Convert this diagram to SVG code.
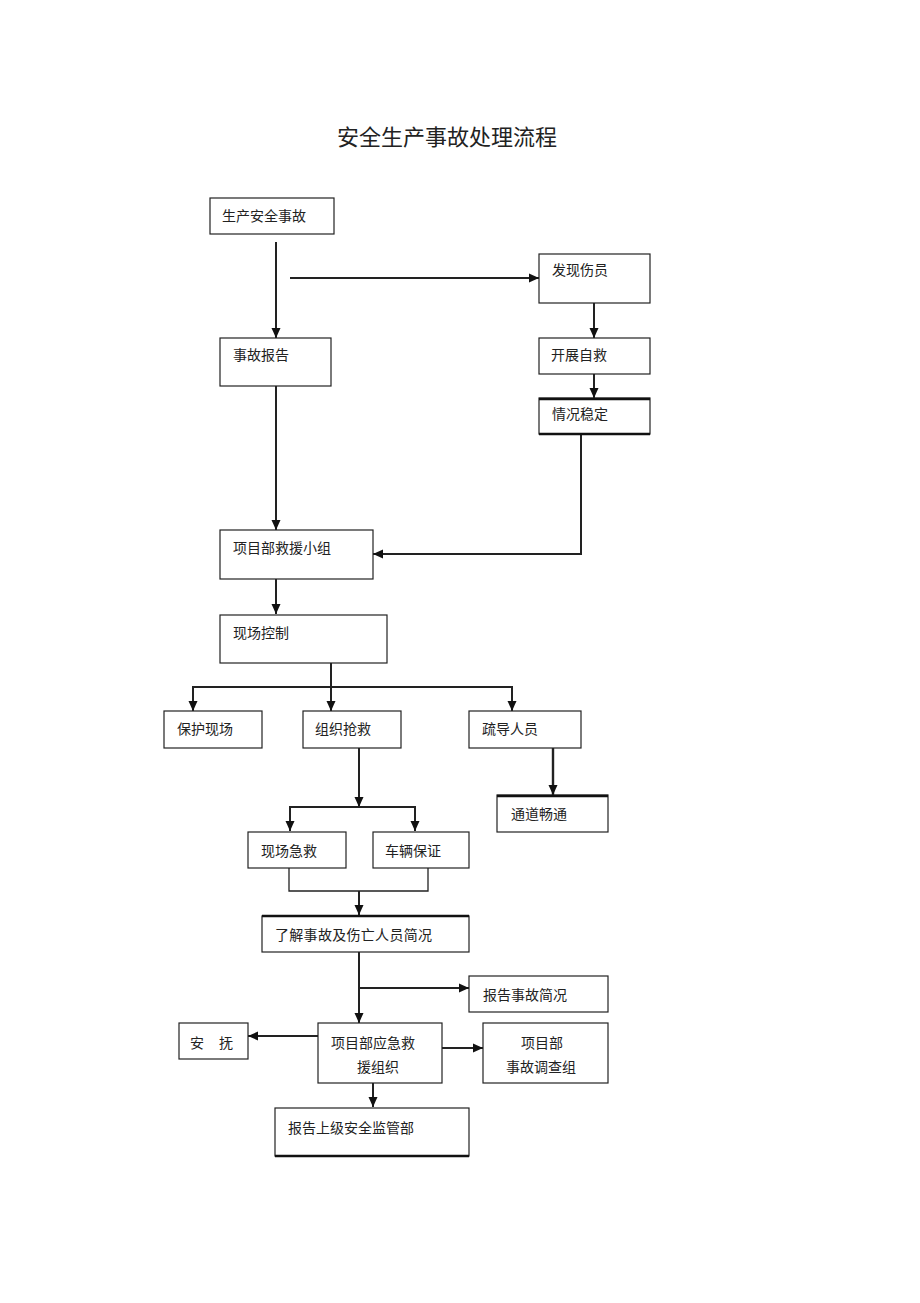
<svg xmlns="http://www.w3.org/2000/svg" width="920" height="1303" viewBox="0 0 920 1303">
<style>
.box{fill:#fff;stroke:#222;stroke-width:1.2}
.thick{stroke:#111;stroke-width:2.4;fill:none}
.t{font-family:"Liberation Serif","Noto Sans CJK SC",serif;font-size:14px;fill:#222}
.title{font-family:"Liberation Serif","Noto Sans CJK SC",serif;font-size:22px;fill:#222}
.c{stroke:#222;stroke-width:2;fill:none}
</style>
<defs>
<marker id="ah" markerUnits="userSpaceOnUse" markerWidth="10" markerHeight="10" viewBox="0 0 10 10" refX="10" refY="5" orient="auto">
<path d="M0,0.5 L10,5 L0,9.5 Z" fill="#111"/>
</marker>
</defs>
<rect width="920" height="1303" fill="#fff"/>
<text class="title" x="447" y="145" text-anchor="middle">安全生产事故处理流程</text>

<g id="connectors">
<line class="c" x1="276" y1="242" x2="276" y2="338" marker-end="url(#ah)"/>
<line class="c" x1="290" y1="278" x2="539" y2="278" marker-end="url(#ah)"/>
<line class="c" x1="594" y1="303" x2="594" y2="338" marker-end="url(#ah)"/>
<line class="c" x1="594" y1="374" x2="594" y2="398" marker-end="url(#ah)"/>
<line class="c" x1="276" y1="386" x2="276" y2="530" marker-end="url(#ah)"/>
<polyline class="c" points="581,434 581,554 373,554" marker-end="url(#ah)"/>
<line class="c" x1="276" y1="579" x2="276" y2="614" marker-end="url(#ah)"/>
<line class="c" x1="331" y1="663" x2="331" y2="711" marker-end="url(#ah)"/>
<polyline class="c" points="193,711 193,687 512,687 512,711"/>
<line class="c" x1="193" y1="700" x2="193" y2="711" marker-end="url(#ah)"/>
<line class="c" x1="512" y1="700" x2="512" y2="711" marker-end="url(#ah)"/>
<line class="c" x1="553" y1="748" x2="553" y2="795" marker-end="url(#ah)" style="stroke-width:2.4"/>
<line class="c" x1="359" y1="748" x2="359" y2="807" marker-end="url(#ah)"/>
<polyline class="c" points="290,830 290,807 415,807 415,830"/>
<line class="c" x1="290" y1="820" x2="290" y2="831" marker-end="url(#ah)"/>
<line class="c" x1="415" y1="820" x2="415" y2="831" marker-end="url(#ah)"/>
<polyline class="c" points="289,868 289,891 428,891 428,868" style="stroke-width:1.3"/>
<line class="c" x1="359" y1="891" x2="359" y2="915" marker-end="url(#ah)"/>
<line class="c" x1="359" y1="952" x2="359" y2="1023" marker-end="url(#ah)"/>
<line class="c" x1="359" y1="988" x2="469" y2="988" marker-end="url(#ah)"/>
<line class="c" x1="318" y1="1036" x2="248" y2="1036" marker-end="url(#ah)"/>
<line class="c" x1="442" y1="1048" x2="483" y2="1048" marker-end="url(#ah)"/>
<line class="c" x1="373" y1="1083" x2="373" y2="1107" marker-end="url(#ah)"/>
</g>

<g id="n1"><rect class="box" x="210" y="198" width="124" height="36"/><text class="t" x="222" y="221">生产安全事故</text></g>
<g id="n2"><rect class="box" x="539" y="254" width="111" height="49"/><text class="t" x="552" y="275">发现伤员</text></g>
<g id="n3"><rect class="box" x="220" y="338" width="111" height="48"/><text class="t" x="233" y="360">事故报告</text></g>
<g id="n4"><rect class="box" x="539" y="338" width="111" height="36"/><text class="t" x="551" y="360">开展自救</text></g>
<g id="n5"><rect class="box" x="539" y="398" width="111" height="36"/><line class="thick" x1="539" y1="399" x2="650" y2="399"/><line class="thick" x1="539" y1="434" x2="650" y2="434"/><text class="t" x="552" y="419">情况稳定</text></g>
<g id="n6"><rect class="box" x="220" y="530" width="153" height="49"/><text class="t" x="233" y="553">项目部救援小组</text></g>
<g id="n7"><rect class="box" x="220" y="615" width="167" height="48"/><text class="t" x="233" y="638">现场控制</text></g>
<g id="n8"><rect class="box" x="164" y="711" width="98" height="37"/><text class="t" x="177" y="734">保护现场</text></g>
<g id="n9"><rect class="box" x="303" y="711" width="98" height="37"/><text class="t" x="315" y="734">组织抢救</text></g>
<g id="n10"><rect class="box" x="469" y="711" width="112" height="37"/><text class="t" x="482" y="734">疏导人员</text></g>
<g id="n11"><rect class="box" x="497" y="795" width="111" height="37"/><line class="thick" x1="497" y1="796" x2="608" y2="796"/><text class="t" x="511" y="819">通道畅通</text></g>
<g id="n12"><rect class="box" x="248" y="832" width="98" height="36"/><text class="t" x="261" y="856">现场急救</text></g>
<g id="n13"><rect class="box" x="373" y="832" width="96" height="36"/><text class="t" x="385" y="856">车辆保证</text></g>
<g id="n14"><rect class="box" x="262" y="916" width="207" height="36"/><line class="thick" x1="262" y1="916" x2="469" y2="916"/><text class="t" x="275" y="940" style="letter-spacing:0.3px">了解事故及伤亡人员简况</text></g>
<g id="n15"><rect class="box" x="469" y="976" width="139" height="36"/><text class="t" x="483" y="1000">报告事故简况</text></g>
<g id="n16"><rect class="box" x="318" y="1023" width="124" height="60"/><text class="t" x="331" y="1048">项目部应急救</text><text class="t" x="378" y="1072" text-anchor="middle">援组织</text></g>
<g id="n17"><rect class="box" x="179" y="1023" width="69" height="36"/><text class="t" x="190" y="1048">安</text><text class="t" x="219" y="1048">抚</text></g>
<g id="n18"><rect class="box" x="483" y="1023" width="125" height="60"/><text class="t" x="542" y="1048" text-anchor="middle">项目部</text><text class="t" x="541" y="1072" text-anchor="middle">事故调查组</text></g>
<g id="n19"><rect class="box" x="275" y="1108" width="194" height="48"/><line class="thick" x1="275" y1="1156" x2="469" y2="1156"/><text class="t" x="288" y="1133">报告上级安全监管部</text></g>
</svg>
